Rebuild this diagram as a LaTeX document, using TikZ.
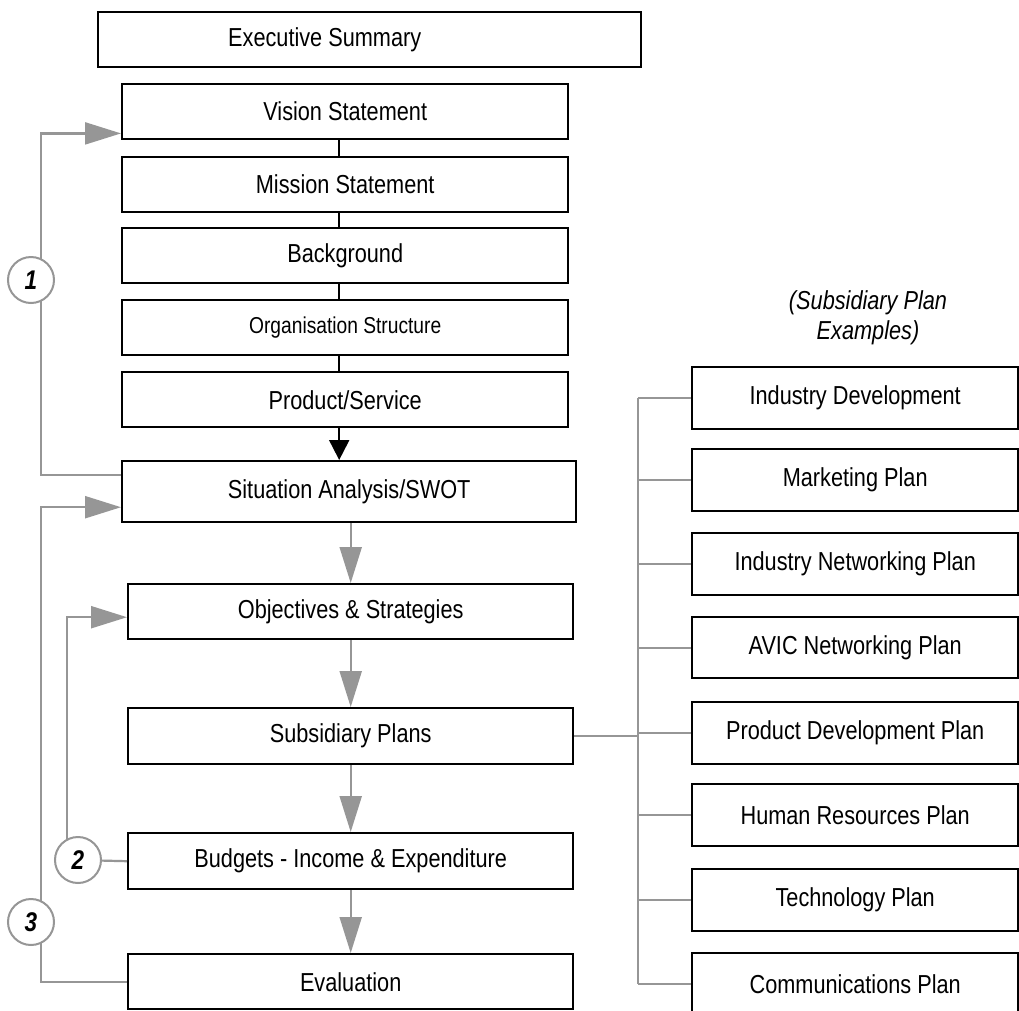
\documentclass[tikz,border=0pt]{standalone}
\usepackage{fontspec}
\newfontfamily\boxfont[FakeStretch=0.835]{Liberation Sans}
\usetikzlibrary{arrows.meta,calc}
\definecolor{linkgray}{RGB}{150,150,150}
\begin{document}
\begin{tikzpicture}[x=1pt,y=-1pt,
  font=\boxfont\fontsize{26}{30}\selectfont,
  box/.style={draw=black, line width=2.4pt, fill=white, inner sep=0pt,
    anchor=north west},
  leftbox/.style={box, minimum width=446pt, minimum height=55pt},
  lowbox/.style={box, minimum width=445pt, minimum height=55pt},
  planbox/.style={box, minimum width=326pt, minimum height=62pt},
  blkline/.style={draw=black, line width=2pt},
  gline/.style={draw=linkgray, line width=2.2pt},
  gtip/.style={-{Triangle[length=36pt,width=22pt]}},
  btip/.style={-{Triangle[length=20pt,width=20pt]}},
  numcirc/.style={circle, draw=linkgray, line width=2pt, fill=white,
    minimum size=46pt, inner sep=0pt,
    font=\boxfont\fontsize{27}{30}\selectfont\bfseries\itshape},
]
\fill[white] (0,0) rectangle (1019,1010);
\useasboundingbox (0,0) rectangle (1019,1010);

% main planning sequence
\node[box, minimum width=543pt, minimum height=55pt] (exec) at (97,11)
  {\hspace{-90pt}Executive Summary\hspace{90pt}};
\node[leftbox] (vision) at (121,83) {Vision Statement};
\node[leftbox] (mission) at (121,156) {Mission Statement};
\node[leftbox] (background) at (121,227) {Background};
\node[leftbox, font=\boxfont\fontsize{23}{28}\selectfont] (org) at (121,299) {Organisation Structure};
\node[leftbox] (product) at (121,371) {Product/Service};
\node[box, minimum width=454pt, minimum height=61pt] (situation) at (121,460) {Situation Analysis/SWOT};
\node[lowbox] (objectives) at (127,583) {Objectives \& Strategies};
\node[lowbox, minimum height=56pt] (subsidiary) at (127,707) {Subsidiary Plans};
\node[lowbox, minimum height=56pt] (budgets) at (127,832) {Budgets - Income \& Expenditure};
\node[lowbox] (evaluation) at (127,953) {Evaluation};

% subsidiary plan examples
\node[align=center, font=\boxfont\fontsize{26}{30}\selectfont\itshape] (sublabel) at (868,318)
  {(Subsidiary Plan\\Examples)};
\node[planbox] (pid) at (691,366) {Industry Development};
\node[planbox] (pmk) at (691,448) {Marketing Plan};
\node[planbox] (pin) at (691,532) {Industry Networking Plan};
\node[planbox, minimum height=61pt] (pav) at (691,616) {AVIC Networking Plan};
\node[planbox] (ppd) at (691,701) {Product Development Plan};
\node[planbox] (phr) at (691,783) {Human Resources Plan};
\node[planbox] (ptc) at (691,868) {Technology Plan};
\node[planbox] (pcm) at (691,952) {Communications Plan};

% black links in the opening sections
\draw[blkline] ([xshift=-6pt]vision.south) -- ([xshift=-6pt]mission.north);
\draw[blkline] ([xshift=-6pt]mission.south) -- ([xshift=-6pt]background.north);
\draw[blkline] ([xshift=-6pt]background.south) -- ([xshift=-6pt]org.north);
\draw[blkline] ([xshift=-6pt]org.south) -- ([xshift=-6pt]product.north);
\draw[blkline, btip] ([xshift=-6pt]product.south) -- ([xshift=-6pt]product.south |- situation.north);

% grey flow arrows
\draw[gline, gtip] (situation.south -| objectives.north) -- (objectives.north);
\draw[gline, gtip] (objectives.south) -- (subsidiary.north);
\draw[gline, gtip] (subsidiary.south) -- (budgets.north);
\draw[gline, gtip] (budgets.south) -- (evaluation.north);

% feedback loops
\coordinate (rail1) at (41,0);
\coordinate (rail2) at (67,0);
\coordinate (c1) at (31,280);
\coordinate (c2) at (78,860);
\coordinate (c3) at (31,922);
\draw[gline, gtip] ([yshift=-15pt]situation.north west)
  -- ([yshift=-15pt]situation.north west -| rail1)
  |- ([yshift=7pt]vision.south west);
\draw[gline, gtip] (evaluation.west) -- (evaluation.west -| rail1)
  |- ([yshift=-15.5pt]situation.west);
\draw[gline] (c2) -- (budgets.west);
\draw[gline, gtip] (c2 -| rail2) |- ([yshift=-5.5pt]objectives.west);

% subsidiary plan tree
\coordinate (trunk) at (638,0);
\draw[gline] (subsidiary.east) -- (subsidiary.east -| trunk);
\draw[gline] (pid.west -| trunk) -- (pcm.west -| trunk);
\foreach \p in {pid,pmk,pin,pav,ppd,phr,ptc,pcm}
  \draw[gline] (\p.west -| trunk) -- (\p.west);

% loop markers
\node[numcirc] (n1) at (c1) {1};
\node[numcirc] (n2) at (c2) {2};
\node[numcirc] (n3) at (c3) {3};
\end{tikzpicture}
\end{document}
